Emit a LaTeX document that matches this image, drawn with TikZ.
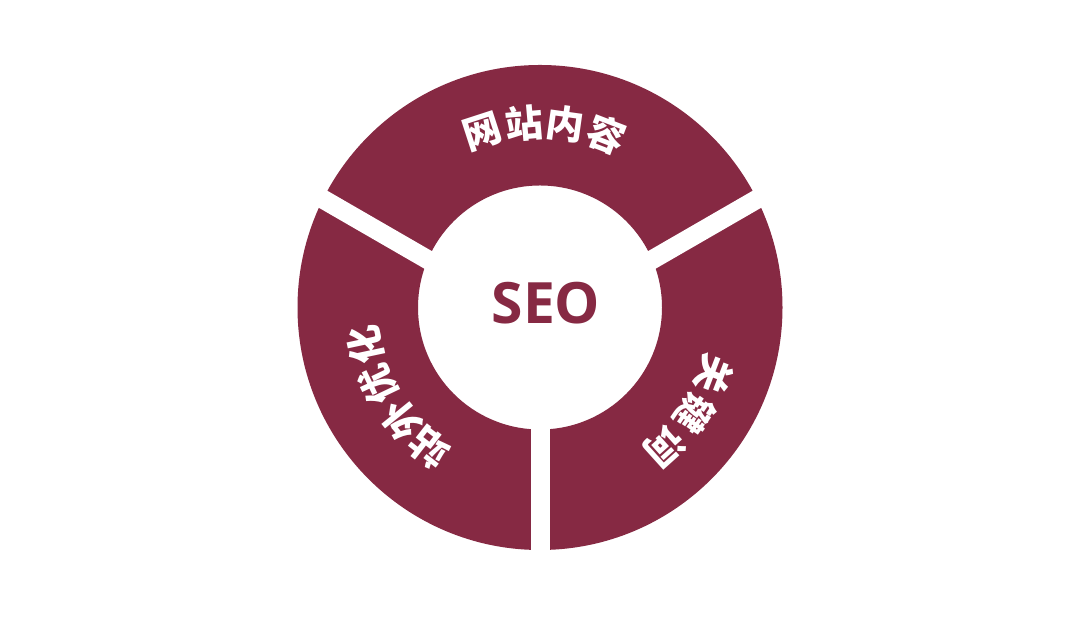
\documentclass[tikz,border=0pt]{standalone}
\usepackage{fontspec}
\newfontfamily\cjk{Noto Sans CJK SC}
\setsansfont{Open Sans}
\definecolor{seored}{RGB}{134,41,67}
\begin{document}
\begin{tikzpicture}[x=1pt,y=1pt,
  ring/.style={fill=seored, even odd rule},
  gapstrip/.style={fill=white},
  arcchar/.style={text=white, inner sep=0pt, font=\cjk\bfseries\fontsize{38}{38}\selectfont},
  centerlabel/.style={text=seored, inner sep=0pt, font=\sffamily\bfseries\fontsize{57}{57}\selectfont}]
\useasboundingbox[fill=white] (0,0) rectangle (1080,617);
\coordinate (C) at (540,309.5);
\begin{scope}[shift={(C)}]
  \fill[ring] (0,0) circle (242.5) (0,0) circle (122);
  % gaps
  \fill[gapstrip] (-9.5,-5) rectangle (9.5,-260);
  \fill[gapstrip, shift={(0,-17)}, rotate=30] (0,-9.5) rectangle (320,9.5);
  \fill[gapstrip, shift={(0,-17)}, rotate=150] (0,-9.5) rectangle (320,9.5);
  % center label
  \node[centerlabel] (seo) at (6,4) {SEO};
  % top segment text
  \node[arcchar, rotate=18]  (t1) at (108:185) {网};
  \node[arcchar, rotate=5]   (t2) at (95:185) {站};
  \node[arcchar, rotate=-8]  (t3) at (82:185) {内};
  \node[arcchar, rotate=-21] (t4) at (69:185) {容};
  % right segment text
  \node[arcchar, rotate=-111]   (r1) at (-21:187) {关};
  \node[arcchar, rotate=-124.5] (r2) at (-34.5:187) {键};
  \node[arcchar, rotate=-138]   (r3) at (-48:187) {词};
  % left segment text
  \node[arcchar, rotate=142]   (l1) at (232:179) {站};
  \node[arcchar, rotate=129]   (l2) at (219:179) {外};
  \node[arcchar, rotate=115.5] (l3) at (205.5:179) {优};
  \node[arcchar, rotate=102]   (l4) at (192:179) {化};
\end{scope}
\end{tikzpicture}
\end{document}
